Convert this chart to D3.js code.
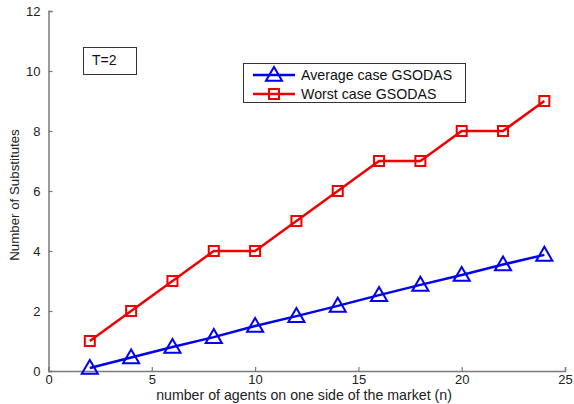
<!DOCTYPE html>
<html>
<head>
<meta charset="utf-8">
<script src="https://cdn.jsdelivr.net/npm/d3@7"></script>
<style>
  html, body { margin: 0; padding: 0; background: #fff; }
  svg { display: block; font-family: "Liberation Sans", Arial, sans-serif; }
</style>
</head>
<body>
<svg id="chart" width="574" height="404"></svg>
<script>
// Number of agents on one side of the market
const agents = [2, 4, 6, 8, 10, 12, 14, 16, 18, 20, 22, 24];
// Number of substitutes, average case
const averageCase = [0.1, 0.45, 0.8, 1.13, 1.5, 1.83, 2.17, 2.53, 2.87, 3.2, 3.55, 3.87];
// Number of substitutes, worst case
const worstCase = [1, 2, 3, 4, 4, 5, 6, 7, 7, 8, 8, 9];
const xTicks = [0, 5, 10, 15, 20, 25];
const yTicks = [0, 2, 4, 6, 8, 10, 12];
const seriesNames = ["Average case GSODAS", "Worst case GSODAS"];
const annotation = "T=2";

const svg = d3.select("#chart");
const x = d3.scaleLinear().domain([0, 25]).range([48.5, 565]);
const y = d3.scaleLinear().domain([0, 12]).range([371, 11]);

const axisColor = "#7a7a7a";

// Axes with inward ticks
const gx = svg.append("g").attr("transform", `translate(0,${y(0)})`)
  .call(d3.axisBottom(x).tickValues(xTicks).tickSize(-4).tickPadding(4));
const gy = svg.append("g").attr("transform", `translate(${x(0)},0)`)
  .call(d3.axisLeft(y).tickValues(yTicks).tickSize(-4).tickPadding(8));
[gx, gy].forEach(g => {
  g.selectAll(".domain").attr("stroke", axisColor).attr("stroke-width", 1.5);
  g.selectAll(".tick line").attr("stroke", axisColor).attr("stroke-width", 1.2);
  g.selectAll(".tick text").attr("fill", "#222").style("font-size", "13px");
});
gx.selectAll(".tick text").attr("dy", "0.71em");

// Axis titles
svg.append("text")
  .attr("x", 304).attr("y", 400)
  .attr("text-anchor", "middle").attr("fill", "#222").style("font-size", "14.2px")
  .text("number of agents on one side of the market (n)");
svg.append("text")
  .attr("transform", `translate(19,195)rotate(-90)`)
  .attr("text-anchor", "middle").attr("fill", "#222").style("font-size", "13.3px")
  .text("Number of Substitutes");

const series = [
  { name: seriesNames[0], values: averageCase, color: "#0000ee", marker: "tri" },
  { name: seriesNames[1], values: worstCase, color: "#ee0000", marker: "sq" }
];

const line = d3.line().x(d => x(d[0])).y(d => y(d[1]));
const triPath = s => `M0,${-s * 0.62}L${s * 0.62},${s * 0.45}L${-s * 0.62},${s * 0.45}Z`;

function drawMarker(g, type, color) {
  if (type === "tri") {
    g.append("path").attr("d", triPath(13)).attr("fill", "none")
      .attr("stroke", color).attr("stroke-width", 2);
  } else {
    g.append("rect").attr("x", -5).attr("y", -5).attr("width", 10).attr("height", 10)
      .attr("fill", "none").attr("stroke", color).attr("stroke-width", 2);
  }
}

series.forEach(s => {
  const pts = agents.map((a, i) => [a, s.values[i]]);
  svg.append("path").datum(pts).attr("d", line)
    .attr("fill", "none").attr("stroke", s.color).attr("stroke-width", 2.5);
  pts.forEach(p => {
    const g = svg.append("g").attr("transform", `translate(${x(p[0])},${y(p[1])})`);
    drawMarker(g, s.marker, s.color);
  });
});

// Annotation box
svg.append("rect").attr("x", 83.5).attr("y", 47.5).attr("width", 53).attr("height", 27)
  .attr("fill", "#fff").attr("stroke", "#333").attr("stroke-width", 1);
svg.append("text").attr("x", 92).attr("y", 65).attr("fill", "#111")
  .style("font-size", "14px").text(annotation);

// Legend
const lg = svg.append("g");
lg.append("rect").attr("x", 243.5).attr("y", 63.5).attr("width", 222).attr("height", 39)
  .attr("fill", "#fff").attr("stroke", "#333").attr("stroke-width", 1);
series.forEach((s, i) => {
  const ly = 75 + i * 19;
  lg.append("line").attr("x1", 253).attr("x2", 295).attr("y1", ly).attr("y2", ly)
    .attr("stroke", s.color).attr("stroke-width", 2.5);
  drawMarker(lg.append("g").attr("transform", `translate(274,${ly})`), s.marker, s.color);
  lg.append("text").attr("x", 301).attr("y", ly + 5).attr("fill", "#111")
    .style("font-size", "14.2px").text(s.name);
});
</script>
</body>
</html>
